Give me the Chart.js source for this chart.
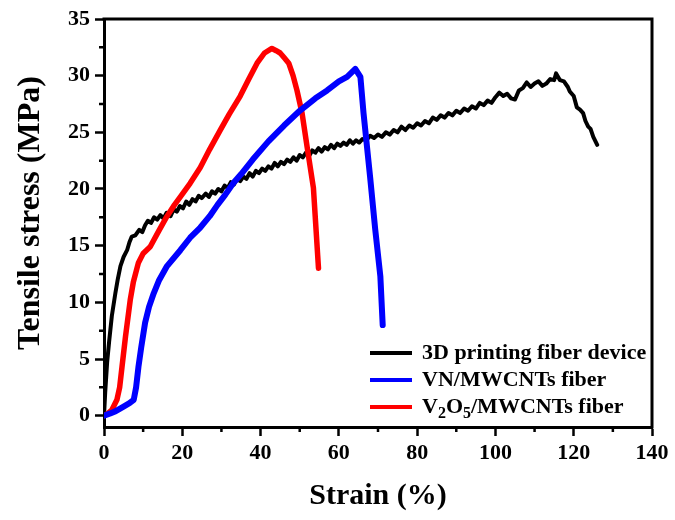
<!DOCTYPE html>
<html>
<head>
<meta charset="utf-8">
<script src="https://cdn.jsdelivr.net/npm/chart.js@4.4.1/dist/chart.umd.min.js"></script>
<style>
  html,body{margin:0;padding:0;background:#fff}
  #wrap{width:675px;height:520px}
</style>
</head>
<body>
<div id="wrap"><canvas id="c"></canvas></div>
<script>
// tick marks on both axes
const xTicks=[0,20,40,60,80,100,120,140]
const xMinor=[10,30,50,70,90,110,130]
const yTicks=[0,5,10,15,20,25,30,35]
const yMinor=[2.5,7.5,12.5,17.5,22.5,27.5,32.5]

const labels=['3D printing fiber device','VN/MWCNTs fiber','V2O5/MWCNTs fiber']
const colors=['#000000','#0000ff','#ff0000']

// 3D printing fiber device
const strainPrint=[0,0.3,0.8,1.3,2,2.9,3.5,4.2,5,5.9,6.5,7.1,8,9,9.8,10.5,11.2,12,12.8,13.6,14.4,15.2,16,17,17.8,18.6,19.4,20.2,21,21.8,22.6,23.4,24.2,25,26,26.8,27.6,28.4,29.2,30,30.8,31.6,32.4,33.2,34,34.8,35.6,36.4,37.2,38,38.8,39.6,40.4,41.2,42,42.8,43.6,44.4,45.2,46,46.8,47.6,48.4,49.2,50,50.8,51.6,52.4,53.2,54,54.8,55.6,56.4,57.2,58,58.8,59.6,60.4,61.2,62,62.8,63.6,64.4,65.2,66,67,68,69,70,71,72,73,74,75,76,77,78,79,80,81,82,83,84,85,86,87,88,89,90,91,92,93,94,95,96,97,98,99,100,101,102,103,104,105,106,107,108,109,110,111,112,113,114,115,115.5,116.5,117.5,118.5,119,120,120.8,121.6,122.4,123,123.7,124.3,125,126]
const stressPrint=[0,2,4.7,6.5,8.8,10.8,12,13.2,14,14.6,15.3,15.8,15.9,16.4,16.2,16.8,17.2,17.0,17.5,17.3,17.7,17.4,17.9,17.6,18.2,18.0,18.5,18.3,18.9,18.6,19.1,18.9,19.4,19.2,19.6,19.3,19.8,19.6,20.0,19.8,20.3,20.1,20.6,20.4,20.9,20.7,21.1,20.9,21.4,21.1,21.6,21.4,21.8,21.6,22.0,21.8,22.3,22.0,22.4,22.2,22.6,22.4,22.8,22.5,23.0,22.8,23.2,22.9,23.4,23.2,23.6,23.3,23.7,23.5,23.9,23.6,24.0,23.8,24.1,23.9,24.3,24.0,24.3,24.1,24.4,24.3,24.7,24.5,24.8,24.6,25.0,24.8,25.2,25.0,25.5,25.2,25.6,25.4,25.8,25.6,26.0,25.8,26.3,26.1,26.5,26.3,26.7,26.5,26.9,26.7,27.1,26.9,27.3,27.1,27.6,27.4,27.8,27.6,28.1,28.5,28.2,28.4,28.0,27.9,28.7,28.9,29.4,29.0,29.3,29.5,29.1,29.3,29.7,29.6,30.2,29.6,29.5,29.0,28.6,28.2,27.2,27.0,26.7,26.0,25.5,25.3,24.6,23.9]

// VN/MWCNTs fiber
const strainVN=[0,1.6,3,5,6.5,7.6,8.2,8.8,9.5,10.5,11.5,12.7,14,16.1,19.5,22,24.6,27,29,31,33,35,38,42,46,50,54,57,60,62.1,64.2,65.5,66.3,68,69.3,70.6,71.2]
const stressVN=[0,0.2,0.4,0.8,1.1,1.4,2.5,4.3,6,8.2,9.6,10.8,11.9,13.2,14.6,15.7,16.6,17.6,18.6,19.5,20.5,21.3,22.6,24.2,25.6,26.9,28.0,28.7,29.5,29.9,30.6,29.9,26.7,21.0,16.4,12.3,8.0]

// V2O5/MWCNTs fiber
const strainV2O5=[0,1,2,3.3,4,4.6,5.5,6.7,7.5,8.8,10,11.8,14,16.1,18,19.5,22,24.6,27,29.7,32,34.8,37,39.1,41,42.9,44,45,46,47.2,48.3,49.3,50.6,51.9,53.5,54.8]
const stressV2O5=[0,0.2,0.5,1.4,2.5,4.3,7,10.2,11.8,13.5,14.3,14.9,16.3,17.6,18.6,19.3,20.5,21.9,23.5,25.2,26.6,28.2,29.7,31.1,32,32.4,32.2,32,31.6,31.1,30,28.7,26.7,23.7,20.1,13.0]

function pts(xs,ys){
    return xs.map((x,i)=>({x,y:ys[i]}))
}

const FONT='"Liberation Serif","Times New Roman",serif'

const framePlugin={
    id:'frame',
    afterDraw(chart){
        const ctx=chart.ctx
        const a=chart.chartArea
        const xs=chart.scales.x
        const ys=chart.scales.y
        ctx.save()
        ctx.strokeStyle='#000'
        ctx.lineWidth=3
        ctx.beginPath()
        ctx.moveTo(a.left-1.5,a.top)
        ctx.lineTo(a.right,a.top)
        ctx.lineTo(a.right,a.bottom+1.5)
        ctx.stroke()
        // minor ticks
        ctx.lineWidth=2.5
        ctx.beginPath()
        for(let v of xMinor){
            const px=xs.getPixelForValue(v)
            ctx.moveTo(px,a.bottom)
            ctx.lineTo(px,a.bottom+5)
        }
        for(let v of yMinor){
            const py=ys.getPixelForValue(v)
            ctx.moveTo(a.left-5,py)
            ctx.lineTo(a.left,py)
        }
        ctx.stroke()

        // y title, drawn by hand so it can sit a little above centre
        ctx.save()
        ctx.translate(31,213)
        ctx.rotate(-Math.PI/2)
        ctx.font=`bold 32px ${FONT}`
        ctx.fillStyle='#000'
        ctx.textAlign='center'
        ctx.textBaseline='middle'
        ctx.fillText('Tensile stress (MPa)',0,0)
        ctx.restore()

        // legend
        const lx=370, tx=422
        const rows=[353,380,407]
        chart.data.datasets.forEach((ds,i)=>{
            const y=rows[i]
            ctx.strokeStyle=ds.borderColor
            ctx.lineWidth=4
            ctx.beginPath()
            ctx.moveTo(lx,y)
            ctx.lineTo(lx+42,y)
            ctx.stroke()
            ctx.fillStyle='#000'
            ctx.textBaseline='middle'
            let x=tx
            // digits right after a letter are subscripts
            const parts=ds.label.split(/(?<=[A-Za-z])(\d+)/)
            parts.forEach((p,k)=>{
                if(!p) return
                const sub=k%2===1
                ctx.font=`bold ${sub?16:22}px ${FONT}`
                ctx.fillText(p,x,sub?y+7:y)
                x+=ctx.measureText(p).width
            })
        })
        ctx.restore()
    }
}

const ctx=document.getElementById('c')
new Chart(ctx,{
    type:'line',
    data:{
        datasets:[
            {label:labels[0],data:pts(strainPrint,stressPrint),borderColor:colors[0],borderWidth:4,order:2},
            {label:labels[1],data:pts(strainVN,stressVN),borderColor:colors[1],borderWidth:6,order:0},
            {label:labels[2],data:pts(strainV2O5,stressV2O5),borderColor:colors[2],borderWidth:5.5,order:1}
        ]
    },
    options:{
        responsive:true,
        maintainAspectRatio:false,
        animation:false,
        layout:{padding:{top:19,right:23,left:0,bottom:0}},
        elements:{point:{radius:0},line:{tension:0,borderCapStyle:'round',borderJoinStyle:'round'}},
        plugins:{legend:{display:false},tooltip:{enabled:false}},
        scales:{
            x:{
                type:'linear',
                min:0,max:140,
                afterBuildTicks(s){ s.ticks=xTicks.map(v=>({value:v})) },
                afterFit(s){ s.height=93 },
                grid:{drawOnChartArea:false,tickLength:9,tickWidth:2.5,tickColor:'#000'},
                border:{display:true,color:'#000',width:3},
                ticks:{color:'#000',padding:4,maxRotation:0,font:{family:FONT,size:22,weight:'bold'}},
                title:{display:true,text:'Strain (%)',color:'#000',padding:{top:0,bottom:6},font:{family:FONT,size:30,weight:'bold'}}
            },
            y:{
                min:-1,max:35,
                afterBuildTicks(s){ s.ticks=yTicks.map(v=>({value:v})) },
                afterFit(s){ s.width=104 },
                grid:{drawOnChartArea:false,tickLength:9,tickWidth:2.5,tickColor:'#000'},
                border:{display:true,color:'#000',width:3},
                ticks:{color:'#000',padding:5,font:{family:FONT,size:22,weight:'bold'}},
                title:{display:false}
            }
        }
    },
    plugins:[framePlugin]
})
</script>
</body>
</html>
